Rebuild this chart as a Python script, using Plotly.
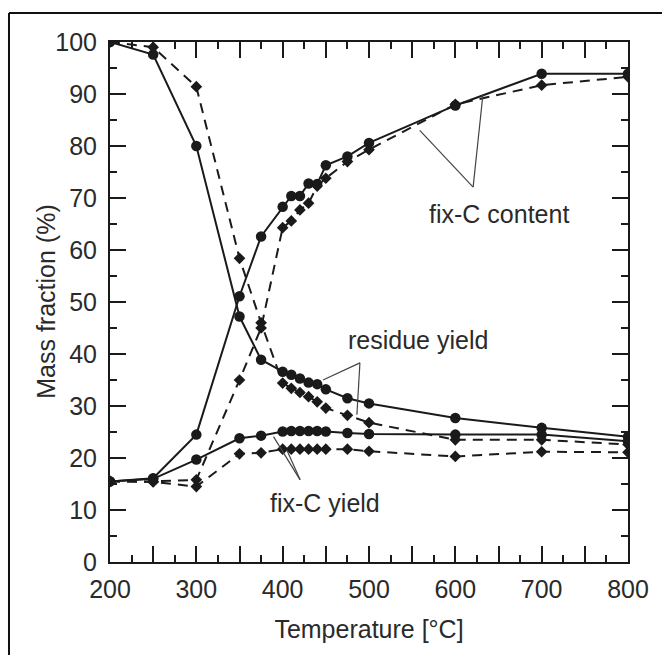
import plotly.graph_objects as go

# Temperatures (°C) at which samples were taken
temps = [200, 250, 300, 350, 375, 400, 410, 420, 430, 440, 450, 475, 500, 600, 700, 800]

# Material A (solid lines, circles)
residue_a = [100, 97.6, 80.0, 47.2, 38.9, 36.6, 36.0, 35.3, 34.5, 34.2, 33.2, 31.5, 30.5, 27.7, 25.8, 24.1]
fixc_content_a = [15.5, 16.1, 24.5, 51.1, 62.6, 68.3, 70.4, 70.4, 72.8, 72.7, 76.3, 78.0, 80.6, 87.8, 93.9, 93.9]
fixc_yield_a = [15.5, 16.0, 19.7, 23.8, 24.3, 25.1, 25.2, 25.2, 25.2, 25.2, 25.1, 24.8, 24.6, 24.5, 24.5, 23.2]

# Material B (dashed lines, diamonds)
residue_b = [100, 99.0, 91.4, 58.4, 46.0, 34.4, 33.4, 32.6, 31.8, 30.8, 29.6, 28.2, 26.8, 23.5, 23.5, 22.6]
fixc_content_b = [15.5, 15.5, 15.8, 35.0, 45.0, 64.3, 65.6, 67.7, 69.0, 72.3, 73.8, 77.0, 79.3, 88.0, 91.7, 93.3]
fixc_yield_b = [15.5, 15.4, 14.5, 20.8, 21.0, 21.7, 21.7, 21.7, 21.7, 21.7, 21.7, 21.7, 21.3, 20.3, 21.2, 21.1]

x_major = list(range(200, 801, 50))
x_labels = [str(v) if v % 100 == 0 else "" for v in x_major]
y_major = list(range(0, 101, 10))

FONT = "Liberation Sans, Arial, Helvetica, sans-serif"
INK = "#1a1a1a"
TXT = "#2a2a2a"

fig = go.Figure()

for ys in (residue_a, fixc_content_a, fixc_yield_a):
    fig.add_trace(go.Scatter(
        x=temps, y=ys, mode="lines+markers",
        line=dict(color=INK, width=2),
        marker=dict(symbol="circle", size=10.5, color=INK),
        showlegend=False, hoverinfo="skip"))

for ys in (residue_b, fixc_content_b, fixc_yield_b):
    fig.add_trace(go.Scatter(
        x=temps, y=ys, mode="lines+markers",
        line=dict(color=INK, width=2, dash="10px,7px"),
        marker=dict(symbol="diamond", size=9, color=INK),
        showlegend=False, hoverinfo="skip"))

# Callout pointers: (apex, leg end 1, leg end 2) in data units
callouts = [
    ((620.6, 72.1), (558.8, 83.0), (631.9, 89.8)),
    ((489.5, 38.3), (446.7, 35.0), (486.0, 28.3)),
    ((420.2, 15.8), (389.4, 24.1), (404.7, 21.6)),
]
shapes = []
for apex, p1, p2 in callouts:
    for p in (p1, p2):
        shapes.append(dict(type="line", xref="x", yref="y",
                           x0=apex[0], y0=apex[1], x1=p[0], y1=p[1],
                           line=dict(color="#444", width=1.2)))

# Frame around the figure (left and top edges)
shapes.append(dict(type="line", xref="paper", yref="paper",
                   x0=-0.195, x1=-0.195, y0=-0.3, y1=1.0557,
                   line=dict(color="#111", width=2)))
shapes.append(dict(type="line", xref="paper", yref="paper",
                   x0=-0.195, x1=1.2, y0=1.0557, y1=1.0557,
                   line=dict(color="#111", width=2)))

labels = [
    ("fix-C content", 651, 66.9),
    ("residue yield", 556.8, 42.7),
    ("fix-C yield", 449, 11.4),
]
annotations = [dict(text=t, x=x, y=y, xref="x", yref="y", showarrow=False,
                    font=dict(family=FONT, size=25, color=TXT))
               for t, x, y in labels]

# Vertical axis title
annotations.append(dict(text="Mass fraction (%)", textangle=-90,
                        x=-0.124, y=0.5, xref="paper", yref="paper",
                        xanchor="center", yanchor="middle", showarrow=False,
                        font=dict(family=FONT, size=25, color=TXT)))

axis_common = dict(
    showline=True, linecolor=INK, linewidth=2, mirror="ticks",
    ticks="inside", tickcolor=INK, tickwidth=2, ticklen=16,
    showgrid=False, zeroline=False,
    tickfont=dict(family=FONT, size=25, color=TXT),
)

fig.update_layout(
    width=662, height=655,
    margin=dict(l=109.5, r=33.5, t=41.7, b=92.7),
    paper_bgcolor="white", plot_bgcolor="white",
    shapes=shapes, annotations=annotations,
    xaxis=dict(range=[200, 800], tickmode="array", tickvals=x_major, ticktext=x_labels,
               minor=dict(dtick=25, tick0=200, ticks="inside", ticklen=7,
                          tickcolor=INK, tickwidth=2),
               ticklabelstandoff=4,
               title=dict(text="Temperature [°C]", standoff=18,
                          font=dict(family=FONT, size=25, color=TXT)),
               **axis_common),
    yaxis=dict(range=[0, 100], tickmode="array", tickvals=y_major,
               minor=dict(dtick=5, tick0=0, ticks="inside", ticklen=7,
                          tickcolor=INK, tickwidth=2),
               ticklabelstandoff=6,
               **axis_common),
)

fig.write_html("out.html")
